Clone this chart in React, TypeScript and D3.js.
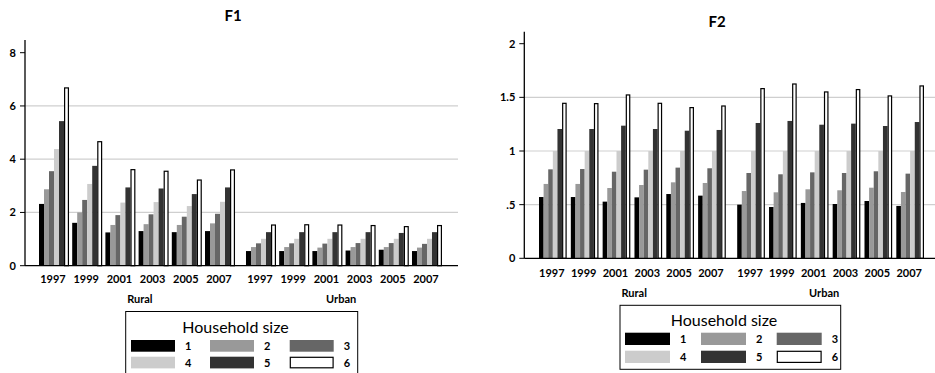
import React from "react";
import * as d3 from "d3";

const years = ["1997", "1999", "2001", "2003", "2005", "2007"];
const areas = ["Rural", "Urban"];
const sizes = ["1", "2", "3", "4", "5", "6"];
const sizeColors = ["#000000", "#999999", "#666666", "#cccccc", "#333333", "#ffffff"];

// F1 values: [year][household size]
const f1Rural = [
  [2.32, 2.87, 3.55, 4.38, 5.43, 6.7],
  [1.61, 2.0, 2.47, 3.07, 3.75, 4.68],
  [1.25, 1.53, 1.9, 2.37, 2.94, 3.63],
  [1.3, 1.56, 1.93, 2.39, 2.9, 3.57],
  [1.26, 1.53, 1.84, 2.24, 2.69, 3.24],
  [1.3, 1.59, 1.95, 2.4, 2.94, 3.62],
];
const f1Urban = [
  [0.55, 0.7, 0.84, 1.01, 1.26, 1.55],
  [0.55, 0.7, 0.84, 1.01, 1.26, 1.56],
  [0.55, 0.68, 0.83, 1.01, 1.26, 1.55],
  [0.57, 0.7, 0.85, 1.01, 1.26, 1.53],
  [0.6, 0.7, 0.85, 1.01, 1.23, 1.49],
  [0.55, 0.68, 0.82, 1.01, 1.26, 1.53],
];
// F2 values: [year][household size]
const f2Rural = [
  [0.571, 0.693, 0.829, 1.0, 1.205, 1.45],
  [0.571, 0.693, 0.832, 1.0, 1.205, 1.447],
  [0.528, 0.655, 0.807, 1.0, 1.236, 1.528],
  [0.568, 0.683, 0.826, 1.0, 1.205, 1.45],
  [0.599, 0.708, 0.845, 1.0, 1.189, 1.41],
  [0.584, 0.702, 0.839, 1.0, 1.196, 1.425],
];
const f2Urban = [
  [0.5, 0.627, 0.795, 1.0, 1.261, 1.587],
  [0.478, 0.615, 0.783, 1.0, 1.28, 1.63],
  [0.516, 0.643, 0.801, 1.0, 1.245, 1.556],
  [0.506, 0.634, 0.795, 1.0, 1.255, 1.578],
  [0.534, 0.658, 0.811, 1.0, 1.233, 1.519],
  [0.488, 0.618, 0.789, 1.0, 1.27, 1.612],
];

const f1Ticks = [0, 2, 4, 6, 8];
const f1TickLabels = ["0", "2", "4", "6", "8"];
const f1Grid = [2, 4, 6];
const f2Ticks = [0, 0.5, 1, 1.5, 2];
const f2TickLabels = ["0", ".5", "1", "1.5", "2"];
const f2Grid = [0.5, 1, 1.5];

const legendTitle = "Household size";
const FONT = "Lato, 'DejaVu Sans', sans-serif";

type PanelCfg = {
  title: string;
  titleX: number;
  titleY: number;
  data: number[][][];
  yDomain: [number, number];
  yRange: [number, number];
  axisX: number;
  axisTop: number;
  axisRight: number;
  barStart: number;
  barEnd: number;
  outerPad: number;
  yearPad: number;
  ticks: number[];
  tickLabels: string[];
  grid: number[];
  yearLabelY: number;
  areaLabelY: number;
  legend: { x: number; y: number; w: number; h: number; titleX: number; titleY: number; row1: number; row2: number; swH: number; swW: number; cols: number[] };
};

const panels: PanelCfg[] = [
  {
    title: "F1",
    titleX: 233,
    titleY: 21,
    data: [f1Rural, f1Urban],
    yDomain: [0, 8],
    yRange: [265.7, 52.7],
    axisX: 25,
    axisTop: 40,
    axisRight: 458,
    barStart: 39,
    barEnd: 442,
    outerPad: 0.053,
    yearPad: 0.096,
    ticks: f1Ticks,
    tickLabels: f1TickLabels,
    grid: f1Grid,
    yearLabelY: 282.5,
    areaLabelY: 303,
    legend: { x: 125.7, y: 311.5, w: 232, h: 80, titleX: 235.5, titleY: 332.5, row1: 340, row2: 356.7, swH: 11.7, swW: 44, cols: [131, 210, 289.7] },
  },
  {
    title: "F2",
    titleX: 717,
    titleY: 26.5,
    data: [f2Rural, f2Urban],
    yDomain: [0, 2],
    yRange: [258.3, 43.7],
    axisX: 524.3,
    axisTop: 31.7,
    axisRight: 935,
    barStart: 539,
    barEnd: 924,
    outerPad: 0.0575,
    yearPad: 0.13,
    ticks: f2Ticks,
    tickLabels: f2TickLabels,
    grid: f2Grid,
    yearLabelY: 276.7,
    areaLabelY: 296.7,
    legend: { x: 620, y: 305.3, w: 220.7, h: 64, titleX: 724, titleY: 326.3, row1: 332.7, row2: 350.7, swH: 12.3, swW: 45, cols: [625, 701, 776.7] },
  },
];

function Panel({ cfg }: { cfg: PanelCfg }) {
  const y = d3.scaleLinear().domain(cfg.yDomain).range(cfg.yRange);
  const xArea = d3.scaleBand<string>().domain(areas).range([cfg.barStart, cfg.barEnd]).paddingInner(cfg.outerPad).paddingOuter(0);
  const xYear = d3.scaleBand<string>().domain(years).range([0, xArea.bandwidth()]).paddingInner(cfg.yearPad).paddingOuter(0);
  const xSize = d3.scaleBand<string>().domain(sizes).range([0, xYear.bandwidth()]).padding(0);
  const y0 = y(0);
  const L = cfg.legend;
  return (
    <g>
      <text x={cfg.titleX} y={cfg.titleY} textAnchor="middle" fontFamily={FONT} fontWeight="bold" fontSize={15}>
        {cfg.title}
      </text>
      {cfg.grid.map((g) => (
        <line key={"g" + g} x1={cfg.axisX} x2={cfg.axisRight} y1={y(g)} y2={y(g)} stroke="#cfcfcf" strokeWidth={1.2} />
      ))}
      {areas.map((a, ai) =>
        years.map((yr, yi) =>
          sizes.map((s, si) => {
            const v = cfg.data[ai][yi][si];
            const x = (xArea(a) as number) + (xYear(yr) as number) + (xSize(s) as number);
            const w = xSize.bandwidth();
            const top = y(v);
            if (si === 5) {
              return (
                <rect key={a + yr + s} x={x + 0.6} y={top + 0.6} width={w - 1.2} height={y0 - top - 0.6} fill="#fff" stroke="#000" strokeWidth={1.2} />
              );
            }
            return <rect key={a + yr + s} x={x} y={top} width={w} height={y0 - top} fill={sizeColors[si]} />;
          })
        )
      )}
      <line x1={cfg.axisX} x2={cfg.axisX} y1={cfg.axisTop} y2={y0} stroke="#000" strokeWidth={1.3} />
      <line x1={cfg.axisX} x2={cfg.axisRight} y1={y0} y2={y0} stroke="#000" strokeWidth={1.3} />
      {cfg.ticks.map((t, i) => (
        <g key={"t" + t}>
          <line x1={cfg.axisX - 5} x2={cfg.axisX} y1={y(t)} y2={y(t)} stroke="#000" strokeWidth={1} />
          <text x={cfg.axisX - 9} y={y(t)} dy="0.35em" textAnchor="end" fontFamily={FONT} fontWeight="bold" fontSize={11}>
            {cfg.tickLabels[i]}
          </text>
        </g>
      ))}
      {areas.map((a) =>
        years.map((yr) => (
          <text
            key={"yl" + a + yr}
            x={(xArea(a) as number) + (xYear(yr) as number) + xYear.bandwidth() / 2 - 1}
            y={cfg.yearLabelY}
            textAnchor="middle"
            fontFamily={FONT}
            fontWeight="bold"
            fontSize={11}
          >
            {yr}
          </text>
        ))
      )}
      <text x={L.x + 1.5} y={cfg.areaLabelY} fontFamily={FONT} fontWeight="bold" fontSize={11}>
        {areas[0]}
      </text>
      <text x={L.x + L.w - 1.5} y={cfg.areaLabelY} textAnchor="end" fontFamily={FONT} fontWeight="bold" fontSize={11}>
        {areas[1]}
      </text>
      <rect x={L.x} y={L.y} width={L.w} height={L.h} fill="#fff" stroke="#000" strokeWidth={1} />
      <text x={L.titleX} y={L.titleY} textAnchor="middle" fontFamily={FONT} fontSize={16}>
        {legendTitle}
      </text>
      {sizes.map((s, i) => {
        const col = i % 3;
        const row = Math.floor(i / 3);
        const sx = L.cols[col];
        const sy = row === 0 ? L.row1 : L.row2;
        return (
          <g key={"lg" + s}>
            {i === 5 ? (
              <rect x={sx + 0.6} y={sy + 0.6} width={L.swW - 1.2} height={L.swH - 1.2} fill="#fff" stroke="#000" strokeWidth={1.2} />
            ) : (
              <rect x={sx} y={sy} width={L.swW} height={L.swH} fill={sizeColors[i]} />
            )}
            <text x={sx + L.swW + 10} y={sy + L.swH / 2} dy="0.36em" fontFamily={FONT} fontWeight="bold" fontSize={11}>
              {s}
            </text>
          </g>
        );
      })}
    </g>
  );
}

export default function App() {
  return (
    <svg width={935} height={373} style={{ position: "absolute", left: 0, top: 0, background: "#fff" }}>
      <rect x={0} y={0} width={935} height={373} fill="#fff" />
      {panels.map((p) => (
        <Panel key={p.title} cfg={p} />
      ))}
    </svg>
  );
}
